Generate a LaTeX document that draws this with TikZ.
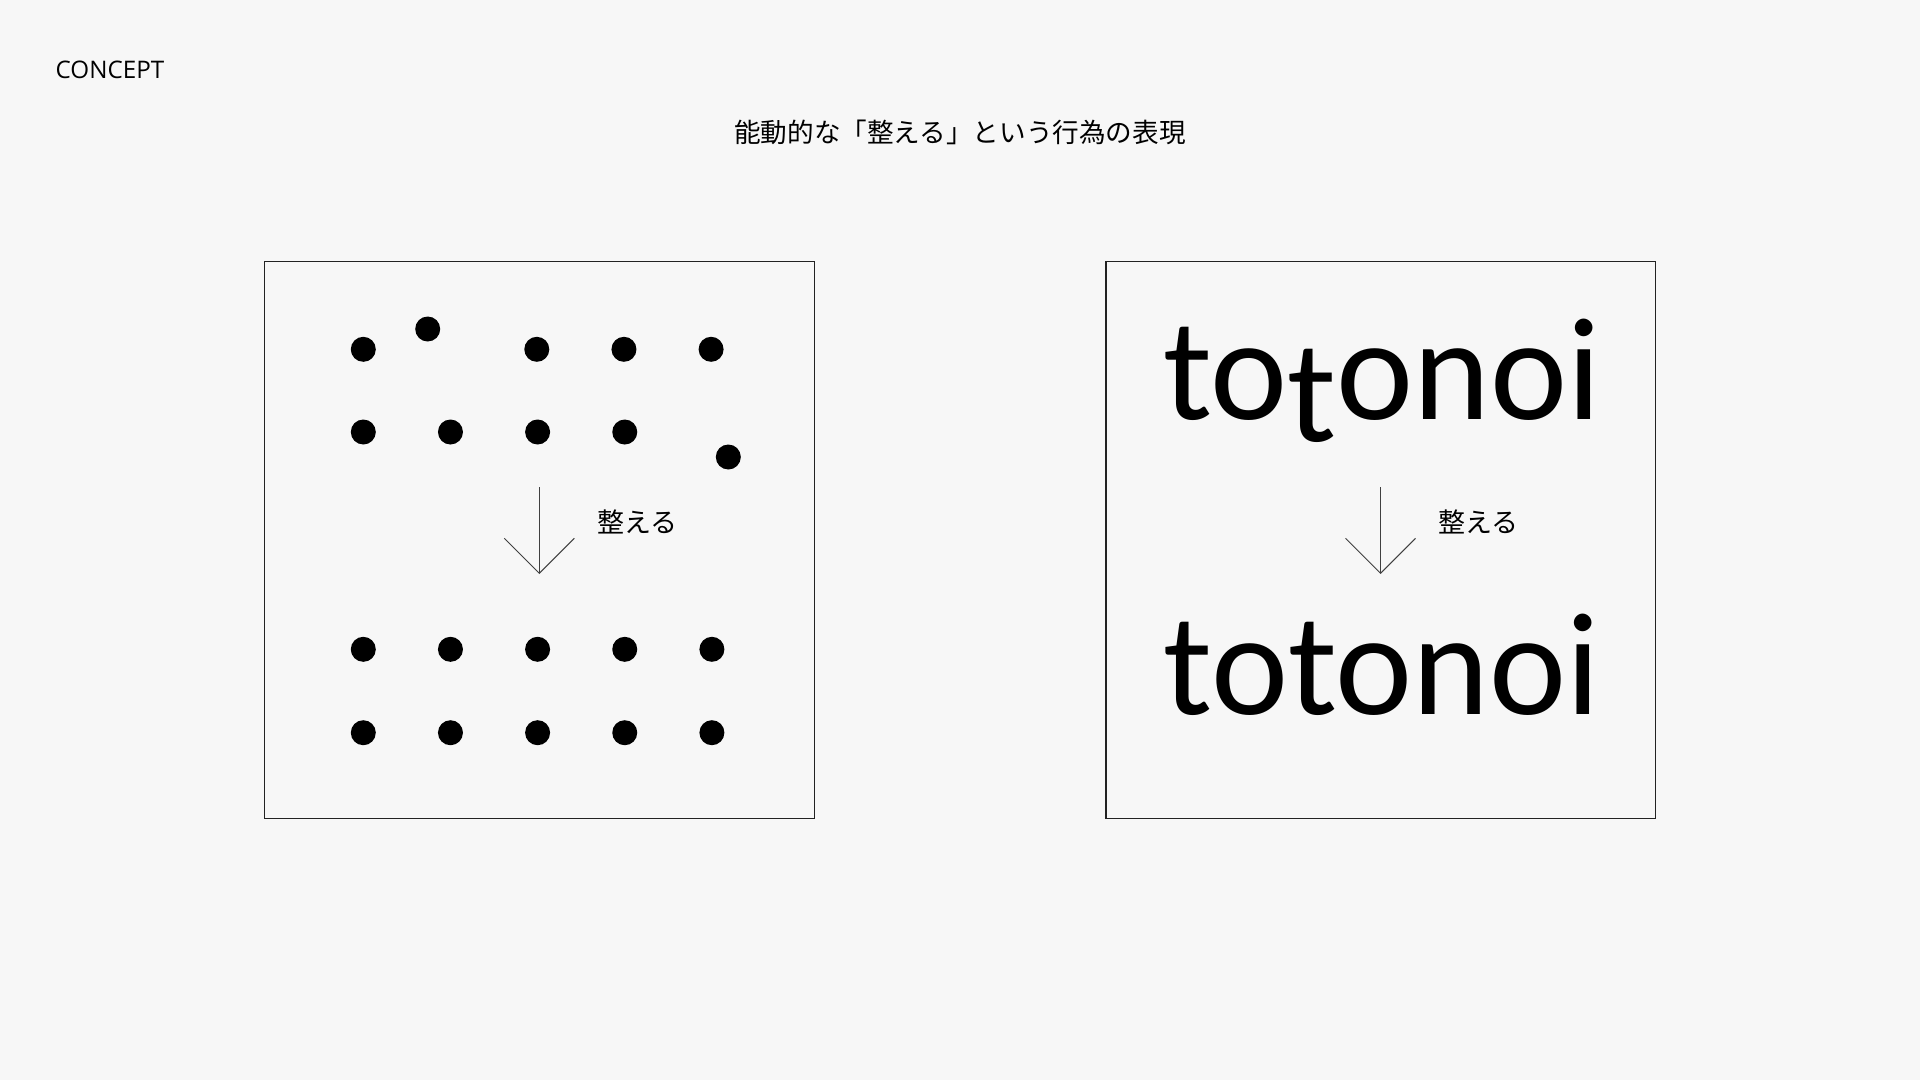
\documentclass[tikz,border=0pt]{standalone}
\usepackage{fontspec}
\setmainfont{Open Sans}
\newfontfamily\jpfont{Noto Sans CJK JP}
\newfontfamily\wordfont{Carlito}
\usepackage{tikz}
\usetikzlibrary{arrows.meta,positioning}
\definecolor{paper}{HTML}{F7F7F7}
\definecolor{ink}{HTML}{222222}
\tikzset{
    %Define style for the two panels
    panel/.style={
           rectangle,
           draw=ink, line width=1.3pt,
           minimum width=549.6pt,
           minimum height=557pt,
           inner sep=0pt},
    % Define arrow style
    pil/.style={
           -{Straight Barb[length=35pt,width=70pt]},
           draw=black!75,
           line width=1pt},
    % Define dot style
    dot/.style={circle,fill=black,inner sep=0pt,minimum size=25pt},
    % Define text styles
    lbl/.style={font=\jpfont\fontsize{27}{27}\selectfont,inner sep=0pt,anchor=base west},
    heading/.style={font=\jpfont\fontsize{26.6}{26.6}\selectfont,inner sep=0pt,anchor=base},
    word/.style={font=\wordfont\fontsize{146}{146}\selectfont,inner sep=0pt,anchor=base}
}

\begin{document}
\begin{tikzpicture}[x=1pt,y=-1pt,node distance=58pt and 61.75pt]
  \fill[paper] (0,0) rectangle (1920,1080);
  \useasboundingbox (0,0) rectangle (1920,1080);

  % headings
  \node[inner sep=0pt,anchor=base west,font=\fontsize{24.2}{24.2}\selectfont] (concept) at (55.5,78.7) {CONCEPT};
  \node[heading] (title) at (960,142.5) {能動的な「整える」という行為の表現};

  % left panel: dots
  \node[panel] (lbox) at (539.5,539.8) {};
  \node[dot] (u11) at (363.3,349.3) {};
  \node[dot] (u12) at (427.7,329) {};
  \node[dot] (u13) at (536.8,349.3) {};
  \node[dot] (u14) [right=of u13] {};
  \node[dot] (u15) [right=of u14] {};
  \node[dot] (u21) at (363.3,432) {};
  \node[dot] (u22) [right=of u21] {};
  \node[dot] (u23) [right=of u22] {};
  \node[dot] (u24) [right=of u23] {};
  \node[dot] (u25) at (728.3,457) {};
  \coordinate (la1) at (539.3,487);
  \coordinate (la2) at (539.3,574);
  \draw[pil] (la1) -- (la2);
  \node[lbl] (ltext) at (597.5,532) {整える};
  \node[dot] (d11) at (363.3,649.3) {};
  \node[dot] (d12) [right=of d11] {};
  \node[dot] (d13) [right=of d12] {};
  \node[dot] (d14) [right=of d13] {};
  \node[dot] (d15) [right=of d14] {};
  \node[dot] (d21) [below=of d11] {};
  \node[dot] (d22) [right=of d21] {};
  \node[dot] (d23) [right=of d22] {};
  \node[dot] (d24) [right=of d23] {};
  \node[dot] (d25) [right=of d24] {};

  % right panel: words
  \node[panel] (rbox) at (1380.7,539.8) {};
  \node[word] (wtop) at (1382,419) {to\raisebox{-22pt}{t}onoi};
  \coordinate (ra1) at (1380.5,487);
  \coordinate (ra2) at (1380.5,574);
  \draw[pil] (ra1) -- (ra2);
  \node[lbl] (rtext) at (1438,532) {整える};
  \node[word] (wbot) at (1382,714) {totonoi};
\end{tikzpicture}
\end{document}
